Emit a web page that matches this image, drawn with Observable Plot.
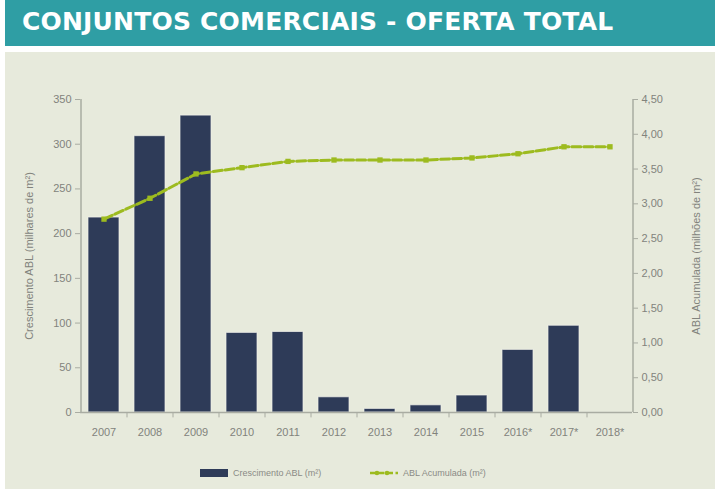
<!DOCTYPE html>
<html>
<head>
<meta charset="utf-8">
<script src="https://cdn.jsdelivr.net/npm/d3@7"></script>
<script src="https://cdn.jsdelivr.net/npm/@observablehq/plot@0.6"></script>
<style>
  html, body { margin: 0; padding: 0; background: #ffffff; width: 719px; height: 489px; overflow: hidden; }
  #header { position: absolute; left: 5px; top: 0px; width: 710px; height: 46px; background: #2f9ea4; }
  #title { position: absolute; left: 17px; top: 7px; color: #ffffff; font: bold 25px "DejaVu Sans", sans-serif; letter-spacing: 0.2px; white-space: nowrap; }
  #panel { position: absolute; left: 5px; top: 52px; width: 710px; height: 437px; background: #e7eadc; }
  #chart { position: absolute; left: 0; top: 0; }
  #legend { position: absolute; left: 0; top: 412px; width: 710px; height: 20px; font: 9px "Liberation Sans", Arial, sans-serif; color: #8a8a86; }
  .lg { position: absolute; top: 4px; display: flex; align-items: center; gap: 5px; white-space: nowrap; }
</style>
</head>
<body>
<div id="header"><div id="title">CONJUNTOS COMERCIAIS - OFERTA TOTAL</div></div>
<div id="panel">
  <div id="chart"></div>
  <div id="legend">
    <div class="lg" style="left:195px"><svg width="28" height="8"><rect x="0" y="0" width="28" height="8" fill="#2e3b58"></rect></svg><span>Crescimento ABL (m²)</span></div>
    <div class="lg" style="left:365px"><svg width="28" height="8"><line x1="0" y1="4" x2="28" y2="4" stroke="#9dbb1f" stroke-width="2.5" stroke-dasharray="6,2.5"></line><circle cx="7" cy="4" r="2.3" fill="#9dbb1f"></circle><circle cx="17" cy="4" r="2.3" fill="#9dbb1f"></circle></svg><span>ABL Acumulada (m²)</span></div>
  </div>
</div>
<script>
const years = ["2007","2008","2009","2010","2011","2012","2013","2014","2015","2016*","2017*","2018*"];
const crescimento = [218, 309, 332, 89, 90, 17, 4, 8, 19, 70, 97, 0];
const acumulada = [2.78, 3.08, 3.43, 3.52, 3.61, 3.63, 3.63, 3.63, 3.66, 3.72, 3.82, 3.82];
const leftTicks = [0, 50, 100, 150, 200, 250, 300, 350];
const rightTicks = [0, 0.5, 1, 1.5, 2, 2.5, 3, 3.5, 4, 4.5];

const leftMax = 350, rightMax = 4.5;
const k = leftMax / rightMax;

const bars = years.map((y, i) => ({year: y, value: crescimento[i]}));
const line = years.map((y, i) => ({year: y, value: acumulada[i], scaled: acumulada[i] * k}));

const axisColor = "#a9aca2";
const textColor = "#82837c";

const chart = Plot.plot({
  width: 710,
  height: 395,
  marginLeft: 75,
  marginRight: 83,
  marginTop: 47,
  marginBottom: 35,
  style: {background: "transparent", fontFamily: "'Liberation Sans', Arial, sans-serif", fontSize: "11px", color: textColor},
  x: {domain: years, paddingInner: 0.33, paddingOuter: 0.165, align: 0.5, label: null},
  y: {domain: [0, leftMax], label: null},
  marks: [
    Plot.barY(bars, {x: "year", y: "value", fill: "#2e3b58", stroke: "#f3f4ec", strokeWidth: 1, strokeOpacity: 0.7}),
    Plot.ruleY([0], {stroke: axisColor, strokeWidth: 1.5}),
    Plot.axisX({tickSize: 0, tickPadding: 16, fontSize: 11, color: textColor}),
    Plot.ruleX(years.slice(1), {x: d => d, dx: -23, y1: 0, y2: -6, stroke: axisColor}),
    Plot.axisY(leftTicks, {anchor: "left", tickSize: 5, tickPadding: 4, stroke: axisColor, color: textColor, fontSize: 11, label: "Crescimento ABL (milhares de m²)", labelAnchor: "center", labelOffset: 55, labelArrow: false}),
    Plot.ruleX([years[0]], {dx: -23, y1: 0, y2: leftMax, stroke: axisColor, strokeWidth: 1.5}),
    Plot.axisY(rightTicks.map(v => v * k), {anchor: "right", tickSize: 5, tickPadding: 4, stroke: axisColor, color: textColor, fontSize: 11, tickFormat: d => (d / k).toFixed(2).replace(".", ","), label: "ABL Acumulada (milhões de m²)", labelAnchor: "center", labelOffset: 67, labelArrow: false}),
    Plot.ruleX([years[years.length - 1]], {dx: 23, y1: 0, y2: leftMax, stroke: axisColor, strokeWidth: 1.5}),
    Plot.line(line, {x: "year", y: "scaled", stroke: "#9dbb1f", strokeWidth: 3, strokeDasharray: "9,3"}),
    Plot.dot(line, {x: "year", y: "scaled", fill: "#9dbb1f", r: 3, symbol: "square"})
  ]
});
document.getElementById("chart").appendChild(chart);
</script>
</body>
</html>
